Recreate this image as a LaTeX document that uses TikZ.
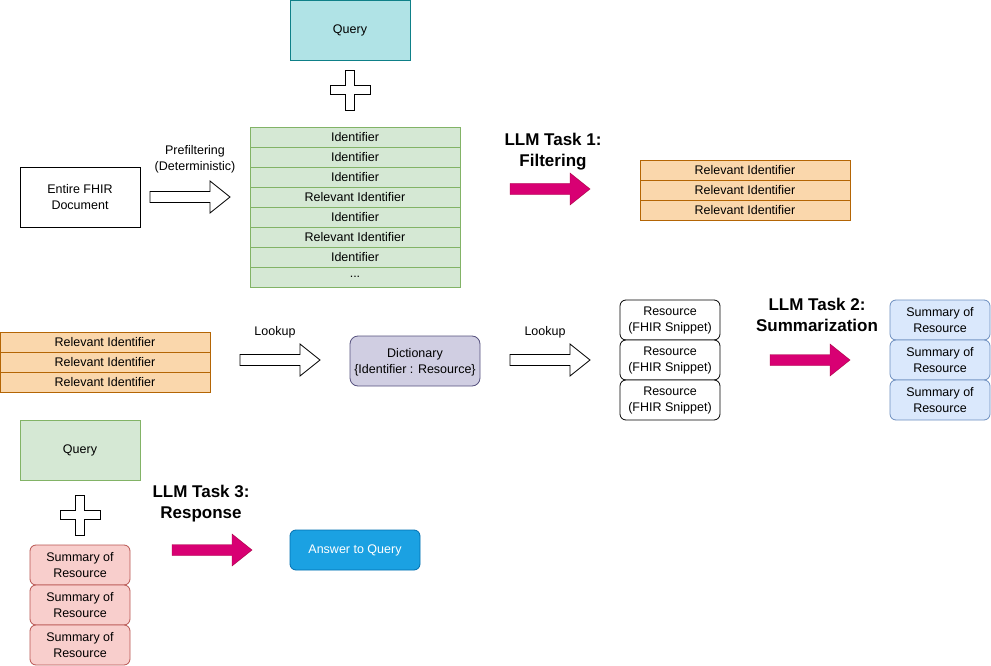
\documentclass[tikz,border=0pt]{standalone}
\usepackage{fontspec}
\setmainfont{Liberation Sans}
\definecolor{qfill}{HTML}{B0E3E6}\definecolor{qdraw}{HTML}{0E8088}
\definecolor{gfill}{HTML}{D5E8D4}\definecolor{gdraw}{HTML}{82B366}
\definecolor{ofill}{HTML}{FAD7AC}\definecolor{odraw}{HTML}{B46504}
\definecolor{pfill}{HTML}{D0CEE2}\definecolor{pdraw}{HTML}{56517E}
\definecolor{bfill}{HTML}{DAE8FC}\definecolor{bdraw}{HTML}{6C8EBF}
\definecolor{rfill}{HTML}{F8CECC}\definecolor{rdraw}{HTML}{B85450}
\definecolor{afill}{HTML}{1BA1E2}\definecolor{adraw}{HTML}{006EAF}
\definecolor{mfill}{HTML}{D80073}\definecolor{mdraw}{HTML}{A50040}
\begin{document}
\begin{tikzpicture}[x=1pt,y=-1pt,
  every node/.style={font=\fontsize{12.5}{16}\selectfont, align=center, inner sep=0pt, text depth=1pt},
  greenrow/.style={draw=gdraw, fill=gfill, line width=0.8pt, minimum width=210, minimum height=20},
  orangerow/.style={draw=odraw, fill=ofill, line width=0.8pt, minimum width=210, minimum height=20},
  resbox/.style={draw, fill=white, rounded corners=6pt, line width=0.8pt, minimum width=100, minimum height=40},
  bsum/.style={draw=bdraw, fill=bfill, rounded corners=6pt, line width=0.8pt, minimum width=100, minimum height=40},
  rsum/.style={draw=rdraw, fill=rfill, rounded corners=6pt, line width=0.8pt, minimum width=100, minimum height=40},
  tasktitle/.style={font=\fontsize{17}{21}\selectfont\bfseries},
  hollowarrow/.pic={\draw[fill=white, line width=0.8pt] (0,-5.5) -- (60,-5.5) -- (60,-16) -- (80,0) -- (60,16) -- (60,5.5) -- (0,5.5) -- cycle;},
  magarrow/.pic={\draw[fill=mfill, draw=mdraw, line width=0.4pt] (0,-5.5) -- (60,-5.5) -- (60,-16) -- (80,0) -- (60,16) -- (60,5.5) -- (0,5.5) -- cycle;},
  plusshape/.pic={\draw[fill=white, line width=0.8pt] (-4.5,-20) -- (4.5,-20) -- (4.5,-4.5) -- (20,-4.5) -- (20,4.5) -- (4.5,4.5) -- (4.5,20) -- (-4.5,20) -- (-4.5,4.5) -- (-20,4.5) -- (-20,-4.5) -- (-4.5,-4.5) -- cycle;}
]
\useasboundingbox (0,0) rectangle (991,666);

% top query
\node[draw=qdraw, fill=qfill, line width=0.8pt, minimum width=120, minimum height=60] (q1) at (350,30) {Query};
\pic at (350,90) {plusshape};

% entire doc
\node[draw, line width=0.8pt, minimum width=120, minimum height=60] (doc) at (80,197) {Entire FHIR\\Document};
\pic at (150,197) {hollowarrow};
\node (pre) at (195,158) {Prefiltering\\(Deterministic)};

% identifier list
\node[greenrow] (i1) at (355,137) {Identifier};
\node[greenrow] (i2) at (355,157) {Identifier};
\node[greenrow] (i3) at (355,177) {Identifier};
\node[greenrow] (i4) at (355,197) {Relevant Identifier};
\node[greenrow] (i5) at (355,217) {Identifier};
\node[greenrow] (i6) at (355,237) {Relevant Identifier};
\node[greenrow] (i7) at (355,257) {Identifier};
\node[greenrow] (i8) at (355,277) {...};

% task 1
\node[tasktitle] (t1) at (553,150) {LLM Task 1:\\Filtering};
\pic at (510,189) {magarrow};
\node[orangerow] (r1) at (745,170) {Relevant Identifier};
\node[orangerow] (r2) at (745,190) {Relevant Identifier};
\node[orangerow] (r3) at (745,210) {Relevant Identifier};

% row 2
\node[orangerow] (l1) at (105,342) {Relevant Identifier};
\node[orangerow] (l2) at (105,362) {Relevant Identifier};
\node[orangerow] (l3) at (105,382) {Relevant Identifier};
\node (lk1) at (275,331) {Lookup};
\pic at (240,360) {hollowarrow};
\node[draw=pdraw, fill=pfill, rounded corners=8pt, line width=0.8pt, minimum width=130, minimum height=50] (dict) at (415,361) {Dictionary\\\{Identifier : Resource\}};
\node (lk2) at (545,331) {Lookup};
\pic at (510,360) {hollowarrow};
\node[resbox] (s1) at (670,320) {Resource\\(FHIR Snippet)};
\node[resbox] (s2) at (670,360) {Resource\\(FHIR Snippet)};
\node[resbox] (s3) at (670,400) {Resource\\(FHIR Snippet)};
\node[tasktitle] (t2) at (817,315) {LLM Task 2:\\Summarization};
\pic at (770,360) {magarrow};
\node[bsum] (b1) at (940,320) {Summary of\\Resource};
\node[bsum] (b2) at (940,360) {Summary of\\Resource};
\node[bsum] (b3) at (940,400) {Summary of\\Resource};

% row 3
\node[draw=gdraw, fill=gfill, line width=0.8pt, minimum width=120, minimum height=60] (q2) at (80,450) {Query};
\pic at (80,515) {plusshape};
\node[rsum] (c1) at (80,565) {Summary of\\Resource};
\node[rsum] (c2) at (80,605) {Summary of\\Resource};
\node[rsum] (c3) at (80,645) {Summary of\\Resource};
\node[tasktitle] (t3) at (201,502) {LLM Task 3:\\Response};
\pic at (172,550) {magarrow};
\node[draw=adraw, fill=afill, text=white, rounded corners=6pt, line width=0.8pt, minimum width=130, minimum height=40] (ans) at (355,550) {Answer to Query};
\end{tikzpicture}
\end{document}
